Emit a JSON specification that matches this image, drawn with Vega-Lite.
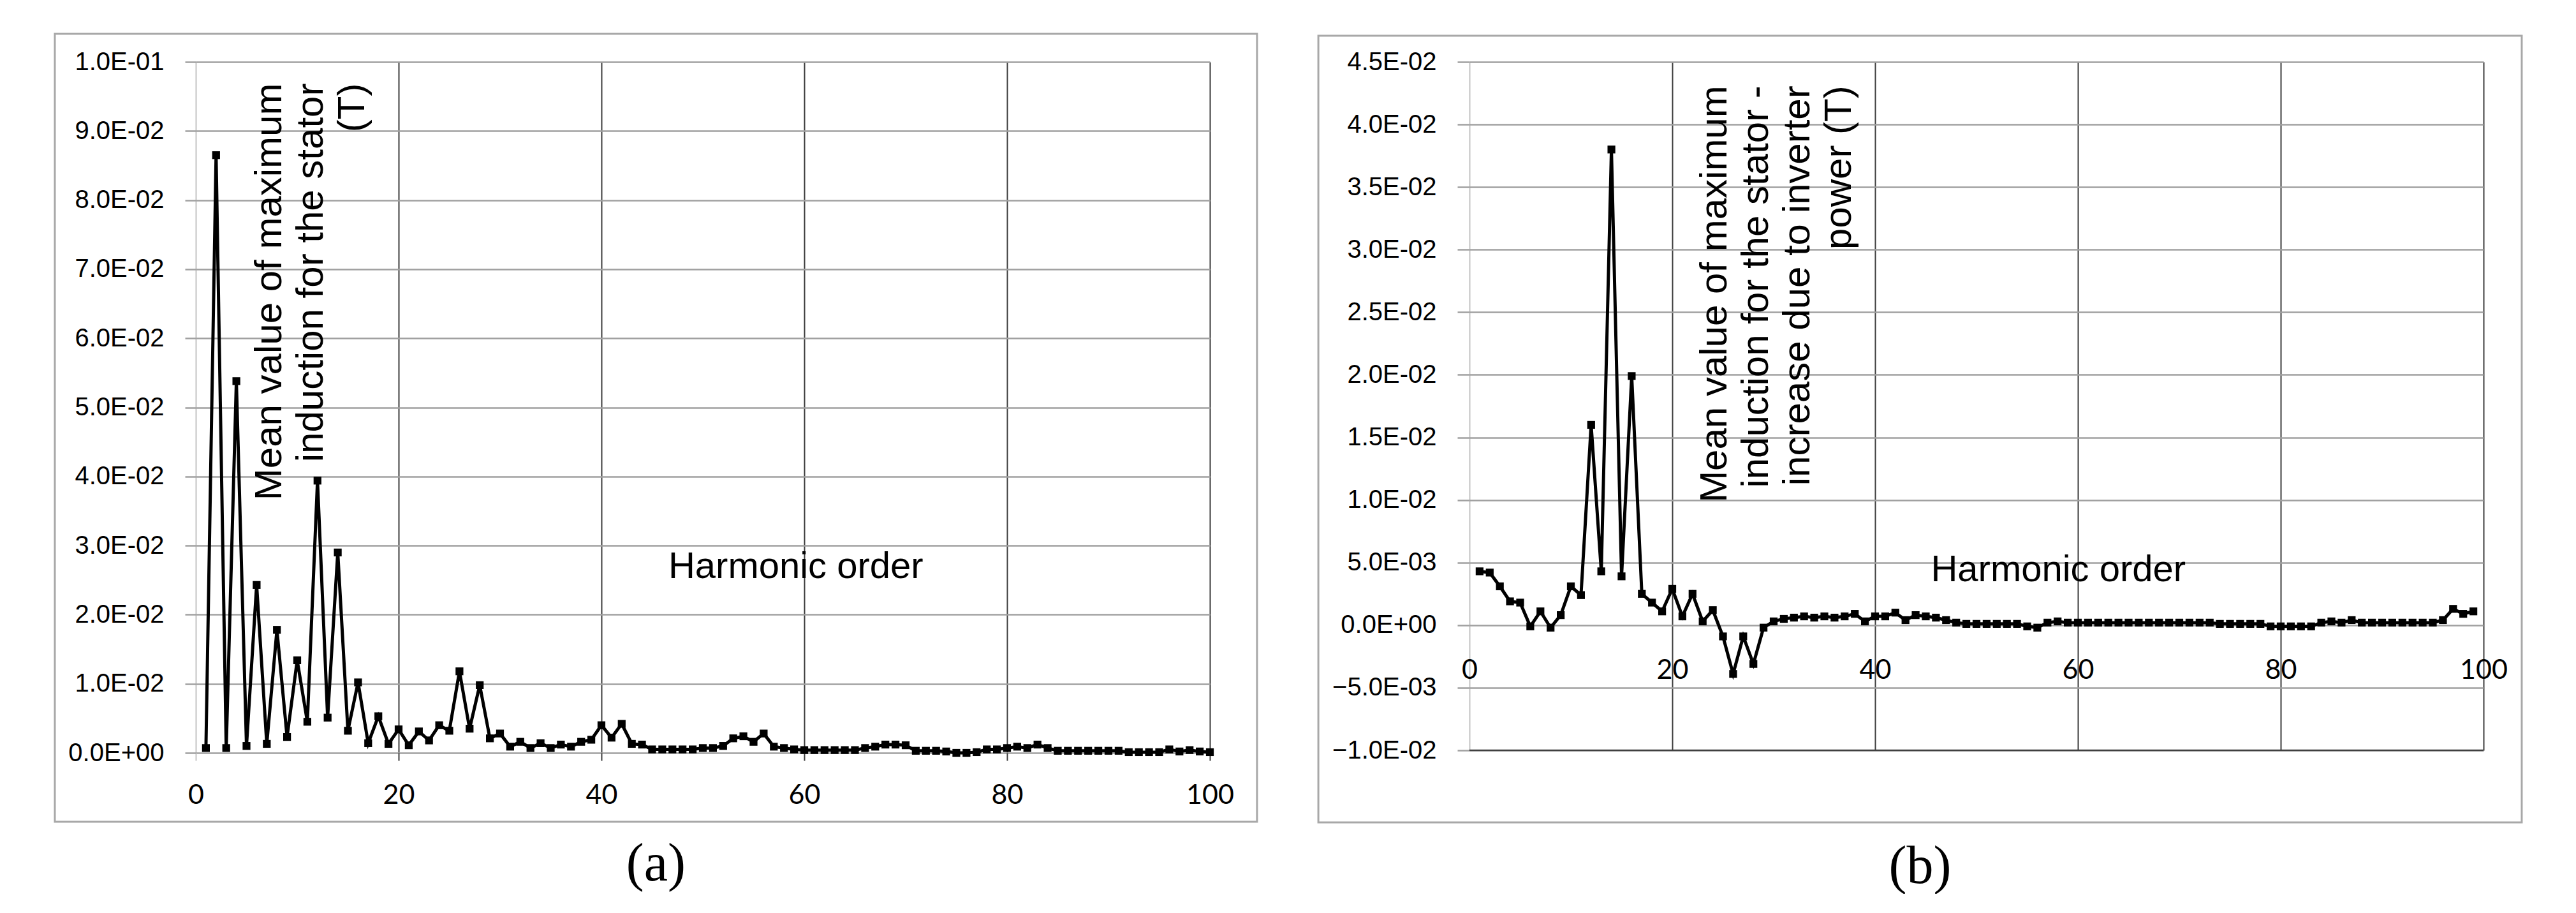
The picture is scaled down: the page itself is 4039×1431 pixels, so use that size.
{
  "$schema": "https://vega.github.io/schema/vega-lite/v6.json",
  "background": "white",
  "padding": {"left": 84, "top": 51, "right": 0, "bottom": 0},
  "spacing": 92,
  "config": {"view": {"stroke": null}, "font": "Liberation Sans"},
  "datasets": {
    "a": [
      {"h":1,"v":0.0007},{"h":2,"v":0.0865},{"h":3,"v":0.0007},{"h":4,"v":0.0538},{"h":5,"v":0.001},
      {"h":6,"v":0.0243},{"h":7,"v":0.0013},{"h":8,"v":0.0178},{"h":9,"v":0.0023},{"h":10,"v":0.0134},
      {"h":11,"v":0.0045},{"h":12,"v":0.0394},{"h":13,"v":0.0051},{"h":14,"v":0.029},{"h":15,"v":0.0032},
      {"h":16,"v":0.0102},{"h":17,"v":0.0014},{"h":18,"v":0.0053},{"h":19,"v":0.0013},{"h":20,"v":0.0034},
      {"h":21,"v":0.0011},{"h":22,"v":0.0031},{"h":23,"v":0.0018},{"h":24,"v":0.004},{"h":25,"v":0.0032},
      {"h":26,"v":0.0118},{"h":27,"v":0.0035},{"h":28,"v":0.0098},{"h":29,"v":0.0021},{"h":30,"v":0.0028},
      {"h":31,"v":0.0009},{"h":32,"v":0.0016},{"h":33,"v":0.0007},{"h":34,"v":0.0014},{"h":35,"v":0.0007},
      {"h":36,"v":0.0012},{"h":37,"v":0.0009},{"h":38,"v":0.0016},{"h":39,"v":0.0019},{"h":40,"v":0.004},
      {"h":41,"v":0.0022},{"h":42,"v":0.0042},{"h":43,"v":0.0013},{"h":44,"v":0.0012},{"h":45,"v":0.0005},
      {"h":46,"v":0.0005},{"h":47,"v":0.0005},{"h":48,"v":0.0005},{"h":49,"v":0.0005},{"h":50,"v":0.0007},
      {"h":51,"v":0.0007},{"h":52,"v":0.001},{"h":53,"v":0.0021},{"h":54,"v":0.0024},{"h":55,"v":0.0016},
      {"h":56,"v":0.0028},{"h":57,"v":0.0009},{"h":58,"v":0.0007},{"h":59,"v":0.0005},{"h":60,"v":0.0004},
      {"h":61,"v":0.0004},{"h":62,"v":0.0004},{"h":63,"v":0.0004},{"h":64,"v":0.0004},{"h":65,"v":0.0004},
      {"h":66,"v":0.0007},{"h":67,"v":0.0009},{"h":68,"v":0.0012},{"h":69,"v":0.0012},{"h":70,"v":0.0011},
      {"h":71,"v":0.0003},{"h":72,"v":0.0003},{"h":73,"v":0.0003},{"h":74,"v":0.0002},{"h":75,"v":0.0},
      {"h":76,"v":0.0},{"h":77,"v":0.0001},{"h":78,"v":0.0005},{"h":79,"v":0.0005},{"h":80,"v":0.0007},
      {"h":81,"v":0.0009},{"h":82,"v":0.0007},{"h":83,"v":0.0012},{"h":84,"v":0.0007},{"h":85,"v":0.0003},
      {"h":86,"v":0.0003},{"h":87,"v":0.0003},{"h":88,"v":0.0003},{"h":89,"v":0.0003},{"h":90,"v":0.0003},
      {"h":91,"v":0.0003},{"h":92,"v":0.0001},{"h":93,"v":0.0001},{"h":94,"v":0.0001},{"h":95,"v":0.0001},
      {"h":96,"v":0.0005},{"h":97,"v":0.0002},{"h":98,"v":0.0004},{"h":99,"v":0.0002},{"h":100,"v":0.0001}
    ],
    "b": [
      {"h":1,"v":0.0043},{"h":2,"v":0.0042},{"h":3,"v":0.0031},{"h":4,"v":0.0019},{"h":5,"v":0.0018},
      {"h":6,"v":-0.0001},{"h":7,"v":0.0011},{"h":8,"v":-0.0002},{"h":9,"v":0.0008},{"h":10,"v":0.0031},
      {"h":11,"v":0.0024},{"h":12,"v":0.016},{"h":13,"v":0.0043},{"h":14,"v":0.038},{"h":15,"v":0.0039},
      {"h":16,"v":0.0199},{"h":17,"v":0.0025},{"h":18,"v":0.0018},{"h":19,"v":0.0011},{"h":20,"v":0.0029},
      {"h":21,"v":0.0007},{"h":22,"v":0.0025},{"h":23,"v":0.0003},{"h":24,"v":0.0012},{"h":25,"v":-0.0009},
      {"h":26,"v":-0.0039},{"h":27,"v":-0.0009},{"h":28,"v":-0.0031},{"h":29,"v":-0.0002},{"h":30,"v":0.0003},
      {"h":31,"v":0.0005},{"h":32,"v":0.0006},{"h":33,"v":0.0007},{"h":34,"v":0.0006},{"h":35,"v":0.0007},
      {"h":36,"v":0.0006},{"h":37,"v":0.0007},{"h":38,"v":0.0009},{"h":39,"v":0.0003},{"h":40,"v":0.0007},
      {"h":41,"v":0.0007},{"h":42,"v":0.001},{"h":43,"v":0.0004},{"h":44,"v":0.0008},{"h":45,"v":0.0007},
      {"h":46,"v":0.0006},{"h":47,"v":0.0004},{"h":48,"v":0.0002},{"h":49,"v":0.0001},{"h":50,"v":0.0001},
      {"h":51,"v":0.0001},{"h":52,"v":0.0001},{"h":53,"v":0.0001},{"h":54,"v":0.0001},{"h":55,"v":-0.0001},
      {"h":56,"v":-0.0002},{"h":57,"v":0.0002},{"h":58,"v":0.0003},{"h":59,"v":0.0002},{"h":60,"v":0.0002},
      {"h":61,"v":0.0002},{"h":62,"v":0.0002},{"h":63,"v":0.0002},{"h":64,"v":0.0002},{"h":65,"v":0.0002},
      {"h":66,"v":0.0002},{"h":67,"v":0.0002},{"h":68,"v":0.0002},{"h":69,"v":0.0002},{"h":70,"v":0.0002},
      {"h":71,"v":0.0002},{"h":72,"v":0.0002},{"h":73,"v":0.0002},{"h":74,"v":0.0001},{"h":75,"v":0.0001},
      {"h":76,"v":0.0001},{"h":77,"v":0.0001},{"h":78,"v":0.0001},{"h":79,"v":-0.0001},{"h":80,"v":-0.0001},
      {"h":81,"v":-0.0001},{"h":82,"v":-0.0001},{"h":83,"v":-0.0001},{"h":84,"v":0.0002},{"h":85,"v":0.0003},
      {"h":86,"v":0.0002},{"h":87,"v":0.0004},{"h":88,"v":0.0002},{"h":89,"v":0.0002},{"h":90,"v":0.0002},
      {"h":91,"v":0.0002},{"h":92,"v":0.0002},{"h":93,"v":0.0002},{"h":94,"v":0.0002},{"h":95,"v":0.0002},
      {"h":96,"v":0.0004},{"h":97,"v":0.0013},{"h":98,"v":0.0009},{"h":99,"v":0.0011}
    ]
  },
  "hconcat": [
    {
      "width": 1590,
      "height": 1083,
      "title": {"text": "(a)", "orient": "bottom", "anchor": "middle", "frame": "bounds", "font": "Liberation Serif", "fontSize": 84, "fontWeight": "normal", "baseline": "top", "offset": 25, "color": "black"},
      "layer": [
        {
          "data": {"name": "a"},
          "mark": {"type": "line", "color": "black", "strokeWidth": 5, "point": {"shape": "square", "size": 150, "filled": true, "color": "black"}},
          "encoding": {
            "x": {"field": "h", "type": "quantitative", "scale": {"domain": [0, 100], "nice": false, "zero": false},
              "axis": {"values": [0, 20, 40, 60, 80, 100], "title": null, "domain": false, "grid": true,
                "gridColor": {"condition": {"test": "datum.value === 0", "value": "#c4c4c4"}, "value": "#3c3c3c"},
                "gridWidth": 2, "ticks": true, "tickSize": 12, "tickWidth": 2,
                "tickColor": {"condition": {"test": "datum.value === 0", "value": "#c4c4c4"}, "value": "#3c3c3c"},
                "labelFont": "Lato", "labelFontSize": 43, "labelColor": "black", "labelBaseline": "middle", "labelPadding": 54, "labelFlush": false, "labelOverlap": false}},
            "y": {"field": "v", "type": "quantitative", "scale": {"domain": [0, 0.1], "nice": false, "zero": false},
              "axis": {"values": [0, 0.01, 0.02, 0.03, 0.04, 0.05, 0.06, 0.07, 0.08, 0.09, 0.1], "title": null, "domain": false, "grid": true,
                "gridColor": "#a0a0a0", "gridWidth": 2.5, "tickSize": 17, "tickColor": "#a0a0a0", "tickWidth": 2.5,
                "labelFont": "Liberation Sans", "labelFontSize": 40, "labelColor": "black", "labelPadding": 33, "labelFlush": false, "labelOverlap": false,
                "labelExpr": "replace(replace(format(datum.value, '.1e'), 'e-', 'E-0'), 'e+', 'E+0')"}}
          }
        },
        {
          "data": {"values": [{}]},
          "mark": {"type": "rect", "fillOpacity": 0, "stroke": "#a8a8a8", "strokeWidth": 3, "clip": false},
          "encoding": {
            "x": {"datum": -13.9, "type": "quantitative", "axis": {"title": null}},
            "x2": {"datum": 104.65},
            "y": {"datum": 0.10406, "type": "quantitative", "axis": {"title": null}},
            "y2": {"datum": -0.00997}
          }
        },
        {
          "data": {"values": [{}]},
          "mark": {"type": "text", "text": ["Mean value of maximum", "induction for the stator", "(T)"], "angle": 270, "align": "right", "baseline": "alphabetic", "font": "Liberation Sans", "fontSize": 60, "lineHeight": 65, "color": "black"},
          "encoding": {
            "x": {"datum": 8.43, "type": "quantitative", "axis": {"title": null}},
            "y": {"datum": 0.0969, "type": "quantitative", "axis": {"title": null}}
          }
        },
        {
          "data": {"values": [{}]},
          "mark": {"type": "text", "text": "Harmonic order", "align": "left", "baseline": "middle", "font": "Liberation Sans", "fontSize": 58, "color": "black"},
          "encoding": {
            "x": {"datum": 46.6, "type": "quantitative", "axis": {"title": null}},
            "y": {"datum": 0.0269, "type": "quantitative", "axis": {"title": null}}
          }
        }
      ]
    },
    {
      "width": 1590,
      "height": 1079,
      "title": {"text": "(b)", "orient": "bottom", "anchor": "middle", "frame": "bounds", "font": "Liberation Serif", "fontSize": 84, "fontWeight": "normal", "baseline": "top", "offset": 27, "color": "black"},
      "layer": [
        {
          "data": {"name": "b"},
          "mark": {"type": "line", "color": "black", "strokeWidth": 5, "point": {"shape": "square", "size": 150, "filled": true, "color": "black"}},
          "encoding": {
            "x": {"field": "h", "type": "quantitative", "scale": {"domain": [0, 100], "nice": false, "zero": false},
              "axis": {"values": [0, 20, 40, 60, 80, 100], "title": null, "domain": false, "grid": true,
                "gridColor": {"condition": {"test": "datum.value === 0", "value": "#c4c4c4"}, "value": "#3c3c3c"},
                "gridWidth": 2, "ticks": false, "tickSize": 0, "offset": -196,
                "labelFont": "Lato", "labelFontSize": 43, "labelColor": "black", "labelBaseline": "middle", "labelPadding": 70, "labelFlush": false, "labelOverlap": false}},
            "y": {"field": "v", "type": "quantitative", "scale": {"domain": [-0.01, 0.045], "nice": false, "zero": false},
              "axis": {"values": [-0.01, -0.005, 0, 0.005, 0.01, 0.015, 0.02, 0.025, 0.03, 0.035, 0.04, 0.045], "title": null, "domain": false, "grid": true,
                "gridColor": "#a0a0a0", "gridWidth": 2.5, "tickSize": 19, "tickColor": "#a0a0a0", "tickWidth": 2.5,
                "labelFont": "Liberation Sans", "labelFontSize": 40, "labelColor": "black", "labelPadding": 33, "labelFlush": false, "labelOverlap": false,
                "labelExpr": "replace(replace(format(datum.value, '.1e'), 'e-', 'E-0'), 'e+', 'E+0')"}}
          }
        },
        {
          "data": {"values": [{}]},
          "mark": {"type": "rect", "fillOpacity": 0, "stroke": "#a8a8a8", "strokeWidth": 3, "clip": false},
          "encoding": {
            "x": {"datum": -14.9, "type": "quantitative", "axis": {"title": null}},
            "x2": {"datum": 103.77},
            "y": {"datum": 0.04709, "type": "quantitative", "axis": {"title": null}},
            "y2": {"datum": -0.01576}
          }
        },
        {
          "data": {"values": [{}]},
          "mark": {"type": "rule", "color": "#404040", "strokeWidth": 2.5},
          "encoding": {
            "y": {"datum": -0.01, "type": "quantitative", "axis": {"title": null}}
          }
        },
        {
          "data": {"values": [{}]},
          "mark": {"type": "text", "text": ["Mean value of maximum", "induction for the stator -", "increase due to inverter", "power (T)"], "angle": 270, "align": "right", "baseline": "alphabetic", "font": "Liberation Sans", "fontSize": 60, "lineHeight": 65, "color": "black"},
          "encoding": {
            "x": {"datum": 25.35, "type": "quantitative", "axis": {"title": null}},
            "y": {"datum": 0.0431, "type": "quantitative", "axis": {"title": null}}
          }
        },
        {
          "data": {"values": [{}]},
          "mark": {"type": "text", "text": "Harmonic order", "align": "left", "baseline": "middle", "font": "Liberation Sans", "fontSize": 58, "color": "black"},
          "encoding": {
            "x": {"datum": 45.5, "type": "quantitative", "axis": {"title": null}},
            "y": {"datum": 0.00437, "type": "quantitative", "axis": {"title": null}}
          }
        }
      ]
    }
  ]
}
